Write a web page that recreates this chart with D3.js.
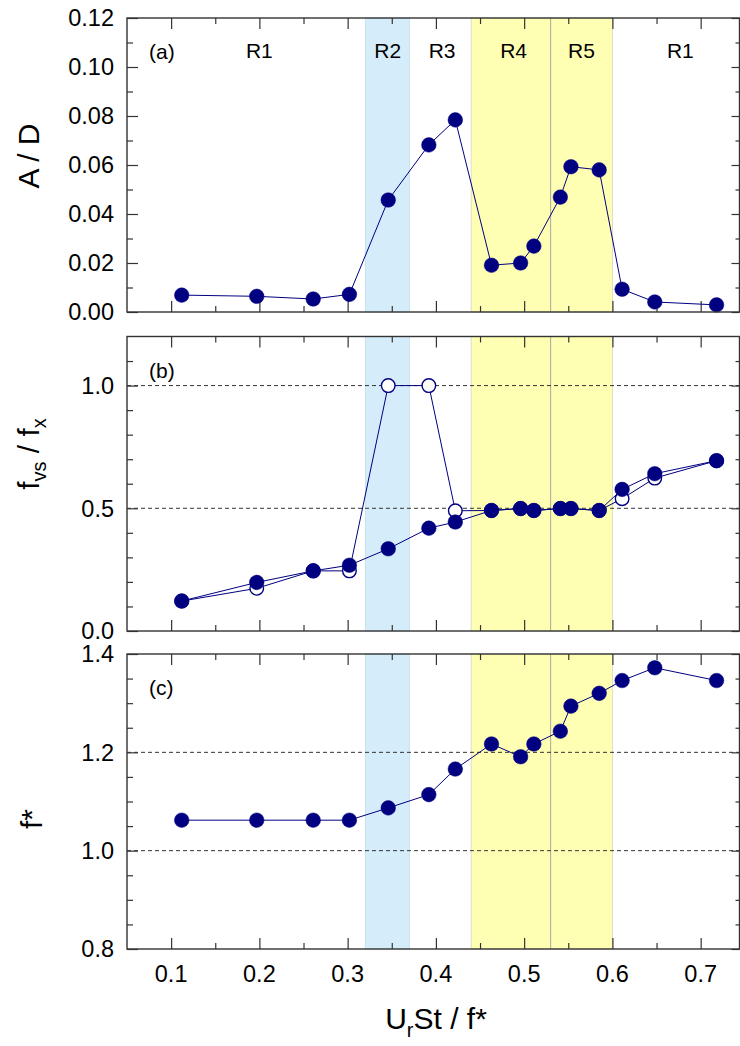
<!DOCTYPE html>
<html>
<head>
<script src="https://cdnjs.cloudflare.com/ajax/libs/d3/7.8.5/d3.min.js"></script>
<style>
body { margin: 0; background: #fff; }
svg { font-family: "Liberation Sans", Arial, sans-serif; }
</style>
</head>
<body>
<div id="chart"></div>
<script>
// reduced velocity values (x) shared by all three panels
var xVals = [0.112, 0.197, 0.261, 0.302, 0.346, 0.392, 0.422, 0.463, 0.496, 0.511, 0.541, 0.553, 0.585, 0.611, 0.648, 0.718];
// panel (a) amplitude
var ampVals = [0.0069, 0.0064, 0.0053, 0.0072, 0.0457, 0.0682, 0.0784, 0.0191, 0.0200, 0.0269, 0.0469, 0.0593, 0.0580, 0.0093, 0.0041, 0.0029];
// panel (b) frequency ratio, filled and open symbols
var ratioFilled = [0.122, 0.198, 0.245, 0.268, 0.335, 0.419, 0.444, 0.491, 0.499, 0.491, 0.499, 0.499, 0.491, 0.577, 0.641, 0.694];
var ratioOpen = [0.122, 0.174, 0.245, 0.245, 1.0, 1.0, 0.49, 0.491, 0.499, 0.491, 0.499, 0.499, 0.491, 0.539, 0.623, 0.694];
// panel (c) f*
var fStarVals = [1.062, 1.062, 1.062, 1.062, 1.087, 1.114, 1.166, 1.217, 1.191, 1.217, 1.243, 1.294, 1.320, 1.346, 1.372, 1.346];

var xDomain = [0.05, 0.744];
var xMajor = [0.1, 0.2, 0.3, 0.4, 0.5, 0.6, 0.7];
var xMinor = [0.15, 0.25, 0.35, 0.45, 0.55, 0.65];

var blueBand = [0.32, 0.37];
var yellowBand = [0.44, 0.60];
var yellowSplit = 0.53;

var regionNames = ["R1", "R2", "R3", "R4", "R5", "R1"];
var regionCenters = [0.20, 0.3455, 0.407, 0.488, 0.565, 0.677];

var navy = "#000080";
var W = 740, H = 1046;
var left = 127, right = 739.5;

var svg = d3.select("#chart").append("svg")
	.attr("width", W)
	.attr("height", H);

var x = d3.scaleLinear().domain(xDomain).range([left, right]);

var panels = [
	{ id: "a", top: 18, bottom: 312, domain: [0, 0.12], major: d3.range(0, 0.121, 0.02), minor: d3.range(0.01, 0.12, 0.02), fmt: d3.format(".2f"), dashes: [] },
	{ id: "b", top: 336.5, bottom: 631, domain: [0, 1.2], major: [0, 0.5, 1.0], minor: [0.1, 0.2, 0.3, 0.4, 0.6, 0.7, 0.8, 0.9, 1.1], fmt: d3.format(".1f"), dashes: [0.5, 1.0] },
	{ id: "c", top: 654, bottom: 949, domain: [0.8, 1.4], major: [0.8, 1.0, 1.2, 1.4], minor: [0.85, 0.9, 0.95, 1.05, 1.1, 1.15, 1.25, 1.3, 1.35], fmt: d3.format(".1f"), dashes: [1.0, 1.2] }
];

panels.forEach(function(p) {
	var y = d3.scaleLinear().domain(p.domain).range([p.bottom, p.top]);
	p.y = y;
	var g = svg.append("g");

	// shaded regimes
	g.append("rect")
		.attr("x", x(blueBand[0])).attr("y", p.top)
		.attr("width", x(blueBand[1]) - x(blueBand[0])).attr("height", p.bottom - p.top)
		.attr("fill", "#d5edfb").attr("stroke", "#c4dcea").attr("stroke-width", 0.8);
	g.append("rect")
		.attr("x", x(yellowBand[0])).attr("y", p.top)
		.attr("width", x(yellowBand[1]) - x(yellowBand[0])).attr("height", p.bottom - p.top)
		.attr("fill", "#ffffb3").attr("stroke", "#d8d8c0").attr("stroke-width", 0.8);
	g.append("line")
		.attr("x1", x(yellowSplit)).attr("x2", x(yellowSplit))
		.attr("y1", p.top).attr("y2", p.bottom)
		.attr("stroke", "#a8a8a0").attr("stroke-width", 1);

	// dashed reference lines
	g.selectAll(".dash").data(p.dashes).enter().append("line")
		.attr("x1", left).attr("x2", right)
		.attr("y1", function(d) { return y(d); })
		.attr("y2", function(d) { return y(d); })
		.attr("stroke", "#333").attr("stroke-width", 1)
		.attr("stroke-dasharray", "4,3");

	// ticks on all four sides
	var axes = [
		d3.axisBottom(x).tickValues(xMajor).tickSizeInner(-11).tickSizeOuter(0).tickFormat(""),
		d3.axisBottom(x).tickValues(xMinor).tickSizeInner(-6).tickSizeOuter(0).tickFormat(""),
		d3.axisTop(x).tickValues(xMajor).tickSizeInner(-11).tickSizeOuter(0).tickFormat(""),
		d3.axisTop(x).tickValues(xMinor).tickSizeInner(-6).tickSizeOuter(0).tickFormat(""),
		d3.axisLeft(y).tickValues(p.major).tickSizeInner(-11).tickSizeOuter(0).tickFormat(""),
		d3.axisLeft(y).tickValues(p.minor).tickSizeInner(-6).tickSizeOuter(0).tickFormat(""),
		d3.axisRight(y).tickValues(p.major).tickSizeInner(-8).tickSizeOuter(0).tickFormat(""),
		d3.axisRight(y).tickValues(p.minor).tickSizeInner(-4).tickSizeOuter(0).tickFormat("")
	];
	var shifts = ["0," + p.bottom, "0," + p.bottom, "0," + p.top, "0," + p.top,
		left + ",0", left + ",0", right + ",0", right + ",0"];
	axes.forEach(function(ax, i) {
		var a = g.append("g").attr("transform", "translate(" + shifts[i] + ")").call(ax);
		a.select(".domain").remove();
		a.selectAll("line").attr("stroke", "#333").attr("stroke-width", 1.2);
	});

	// y tick labels
	g.selectAll(".ylab").data(p.major).enter().append("text")
		.attr("x", 114)
		.attr("y", function(d) { return y(d); })
		.attr("dy", "0.36em")
		.attr("text-anchor", "end")
		.attr("font-size", 23.5)
		.attr("fill", "#000")
		.text(function(d) { return p.fmt(d); });

	// panel tag
	g.append("text")
		.attr("x", 149)
		.attr("y", p.top + 41)
		.attr("font-size", 21)
		.text("(" + p.id + ")");
});

// frames drawn after the data below
function drawFrames() {
	panels.forEach(function(p) {
		svg.append("rect")
			.attr("x", left).attr("y", p.top)
			.attr("width", right - left).attr("height", p.bottom - p.top)
			.attr("fill", "none").attr("stroke", "#333").attr("stroke-width", 1.4);
	});
}

var pa = panels[0], pb = panels[1], pc = panels[2];

// regime labels in panel (a)
svg.selectAll(".reg").data(regionNames).enter().append("text")
	.attr("x", function(d, i) { return x(regionCenters[i]); })
	.attr("y", 58)
	.attr("text-anchor", "middle")
	.attr("font-size", 21)
	.text(function(d) { return d; });

function drawSeries(yScale, vals, open) {
	var pts = xVals.map(function(d, i) { return [x(d), yScale(vals[i])]; });
	svg.append("path")
		.attr("d", d3.line()(pts))
		.attr("fill", "none")
		.attr("stroke", navy)
		.attr("stroke-width", 1);
	svg.append("g").selectAll("circle").data(pts).enter().append("circle")
		.attr("cx", function(d) { return d[0]; })
		.attr("cy", function(d) { return d[1]; })
		.attr("r", open ? 6.8 : 7.3)
		.attr("fill", open ? "#fff" : navy)
		.attr("stroke", navy)
		.attr("stroke-width", open ? 1.4 : 0.5);
}

drawSeries(pa.y, ampVals, false);
drawSeries(pb.y, ratioOpen, true);
drawSeries(pb.y, ratioFilled, false);
drawSeries(pc.y, fStarVals, false);

drawFrames();

// x tick labels
svg.selectAll(".xlab").data(xMajor).enter().append("text")
	.attr("x", function(d) { return x(d); })
	.attr("y", 982)
	.attr("text-anchor", "middle")
	.attr("font-size", 23.5)
	.text(function(d) { return d3.format(".1f")(d); });

// axis titles
var t1 = svg.append("text")
	.attr("transform", "translate(38.5,156) rotate(-90)")
	.attr("text-anchor", "middle")
	.attr("font-size", 30)
	.text("A / D");

var t2 = svg.append("text")
	.attr("transform", "translate(38.5,454) rotate(-90)")
	.attr("text-anchor", "middle")
	.attr("font-size", 30);
t2.append("tspan").text("f");
t2.append("tspan").attr("font-size", 20).attr("dy", 7).text("vs");
t2.append("tspan").attr("dy", -7).text(" / f");
t2.append("tspan").attr("font-size", 20).attr("dy", 7).text("x");

var t3 = svg.append("text")
	.attr("transform", "translate(41.5,819) rotate(-90)")
	.attr("text-anchor", "middle")
	.attr("font-size", 30)
	.text("f*");

var t4 = svg.append("text")
	.attr("x", 436)
	.attr("y", 1029)
	.attr("text-anchor", "middle")
	.attr("font-size", 30);
t4.append("tspan").text("U");
t4.append("tspan").attr("font-size", 20).attr("dy", 8).text("r");
t4.append("tspan").attr("dy", -8).text("St / f*");
</script>
</body>
</html>
